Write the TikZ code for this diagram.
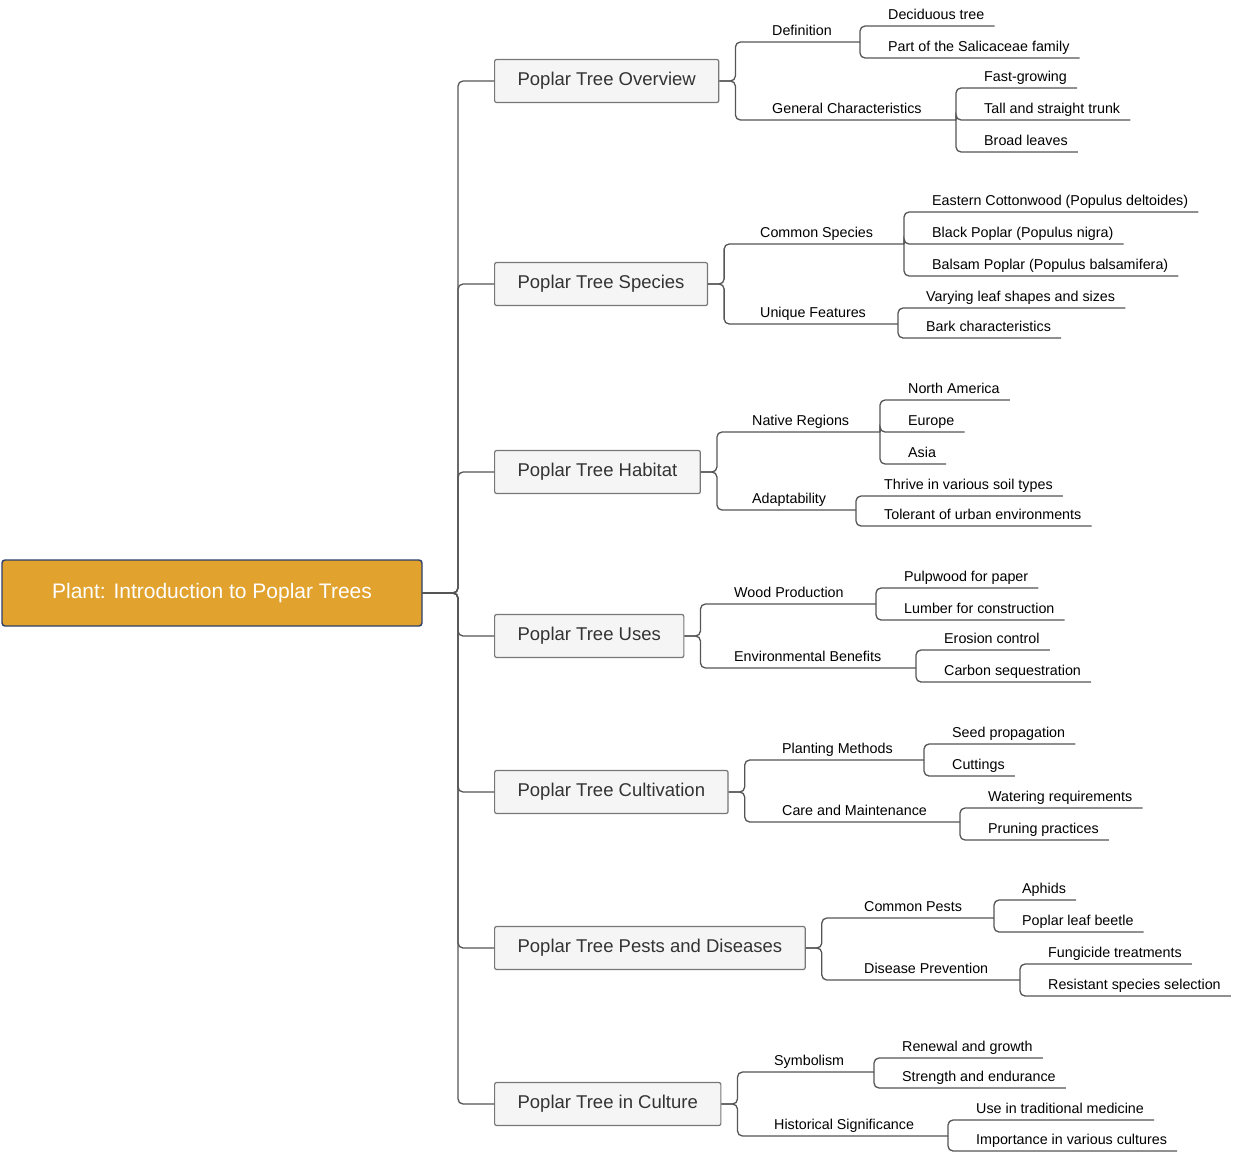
\documentclass[tikz,border=0pt]{standalone}
\usepackage{fontspec}
\setmainfont{Liberation Sans}
\usetikzlibrary{calc}
\definecolor{lc}{HTML}{555555}
\definecolor{gold}{HTML}{E1A22E}
\definecolor{rootb}{HTML}{2B3F6E}
\tikzset{
 ln/.style={draw=lc,line width=1.3pt,rounded corners=5pt},
 root/.style={draw=rootb,line width=1.4pt,fill=gold,text=white,rounded corners=3pt,minimum width=420pt,minimum height=66pt,font=\fontsize{21}{24}\selectfont},
 main/.style={draw=lc!80,line width=1.2pt,fill=black!4,text=black!80,rounded corners=2pt,minimum height=43pt,inner xsep=23pt,anchor=west,font=\fontsize{18.5}{22}\selectfont},
 sub/.style={anchor=base west,inner sep=0pt,font=\fontsize{14.3}{16}\selectfont},
 leaf/.style={anchor=base west,inner sep=0pt,font=\fontsize{14.3}{16}\selectfont}
}
% #1 name, #2 parent, #3 xb, #4 y, #5 text, #6 leaf xb
\newcommand\Sub[6]{\node[sub] (#1) at ({#3+26},{#4-7}) {#5};
 \draw[ln] (#2.east) -- ++(16,0) |- (#6,#4);}
% #1 name, #2 xb, #3 parent y, #4 y, #5 text
\newcommand\Lf[5]{\node[leaf] (#1) at ({#2+28},{#4-7}) {#5};
 \draw[ln] let \p1=(#1.east) in (#2,#3) |- (\x1+10pt,#4);}
\begin{document}
\begin{tikzpicture}[x=1pt,y=-1pt]
\useasboundingbox (0,0) rectangle (1240,1152);
\node[root] (root) at (212,593) {Plant: Introduction to Poplar Trees};
\node[main] (m1) at (494,81) {Poplar Tree Overview};
\node[main] (m2) at (494,284) {Poplar Tree Species};
\node[main] (m3) at (494,472) {Poplar Tree Habitat};
\node[main] (m4) at (494,636) {Poplar Tree Uses};
\node[main] (m5) at (494,792) {Poplar Tree Cultivation};
\node[main] (m6) at (494,948) {Poplar Tree Pests and Diseases};
\node[main] (m7) at (494,1104) {Poplar Tree in Culture};
\foreach \m in {m1,m2,m3,m4,m5,m6,m7}{\draw[ln] (root.east) -- (458,593) |- (\m.west);}
% Overview
\Sub{s11}{m1}{746}{42}{Definition}{860}
\Lf{l111}{860}{42}{26}{Deciduous tree}
\Lf{l112}{860}{42}{58}{Part of the Salicaceae family}
\Sub{s12}{m1}{746}{120}{General Characteristics}{956}
\Lf{l121}{956}{120}{88}{Fast-growing}
\Lf{l122}{956}{120}{120}{Tall and straight trunk}
\Lf{l123}{956}{120}{152}{Broad leaves}
% Species
\Sub{s21}{m2}{734}{244}{Common Species}{904}
\Lf{l211}{904}{244}{212}{Eastern Cottonwood (Populus deltoides)}
\Lf{l212}{904}{244}{244}{Black Poplar (Populus nigra)}
\Lf{l213}{904}{244}{276}{Balsam Poplar (Populus balsamifera)}
\Sub{s22}{m2}{734}{324}{Unique Features}{898}
\Lf{l221}{898}{324}{308}{Varying leaf shapes and sizes}
\Lf{l222}{898}{324}{338}{Bark characteristics}
% Habitat
\Sub{s31}{m3}{726}{432}{Native Regions}{880}
\Lf{l311}{880}{432}{400}{North America}
\Lf{l312}{880}{432}{432}{Europe}
\Lf{l313}{880}{432}{464}{Asia}
\Sub{s32}{m3}{726}{510}{Adaptability}{856}
\Lf{l321}{856}{510}{496}{Thrive in various soil types}
\Lf{l322}{856}{510}{526}{Tolerant of urban environments}
% Uses
\Sub{s41}{m4}{708}{604}{Wood Production}{876}
\Lf{l411}{876}{604}{588}{Pulpwood for paper}
\Lf{l412}{876}{604}{620}{Lumber for construction}
\Sub{s42}{m4}{708}{668}{Environmental Benefits}{916}
\Lf{l421}{916}{668}{650}{Erosion control}
\Lf{l422}{916}{668}{682}{Carbon sequestration}
% Cultivation
\Sub{s51}{m5}{756}{760}{Planting Methods}{924}
\Lf{l511}{924}{760}{744}{Seed propagation}
\Lf{l512}{924}{760}{776}{Cuttings}
\Sub{s52}{m5}{756}{822}{Care and Maintenance}{960}
\Lf{l521}{960}{822}{808}{Watering requirements}
\Lf{l522}{960}{822}{840}{Pruning practices}
% Pests
\Sub{s61}{m6}{838}{918}{Common Pests}{994}
\Lf{l611}{994}{918}{900}{Aphids}
\Lf{l612}{994}{918}{932}{Poplar leaf beetle}
\Sub{s62}{m6}{838}{980}{Disease Prevention}{1020}
\Lf{l621}{1020}{980}{964}{Fungicide treatments}
\Lf{l622}{1020}{980}{996}{Resistant species selection}
% Culture
\Sub{s71}{m7}{748}{1072}{Symbolism}{874}
\Lf{l711}{874}{1072}{1058}{Renewal and growth}
\Lf{l712}{874}{1072}{1088}{Strength and endurance}
\Sub{s72}{m7}{748}{1136}{Historical Significance}{948}
\Lf{l721}{948}{1136}{1120}{Use in traditional medicine}
\Lf{l722}{948}{1136}{1151}{Importance in various cultures}
\end{tikzpicture}
\end{document}
